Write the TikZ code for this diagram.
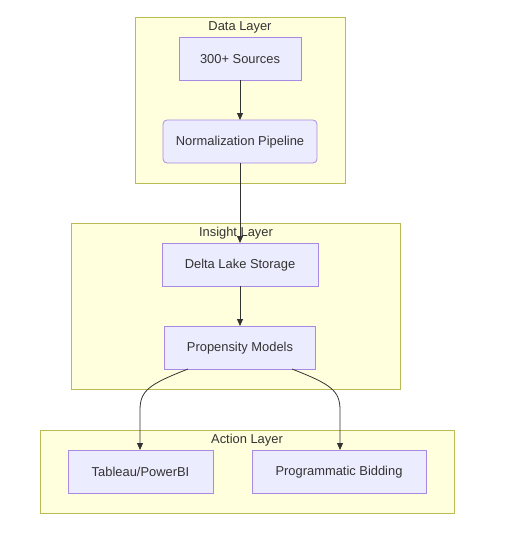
\documentclass[tikz,border=0pt]{standalone}
\usepackage{fontspec}
\setmainfont{Liberation Sans}
\usetikzlibrary{arrows.meta}
\definecolor{nodefill}{HTML}{ECECFF}
\definecolor{nodeline}{HTML}{A98AE3}
\definecolor{clfill}{HTML}{FFFFDE}
\definecolor{clline}{HTML}{BBBB55}
\definecolor{txt}{HTML}{333333}
\begin{document}
\begin{tikzpicture}[x=1pt,y=-1pt,
  cluster/.style={draw=clline,fill=clfill,line width=0.8pt},
  box/.style={draw=nodeline,fill=nodefill,line width=0.8pt},
  lbl/.style={text=txt,font=\fontsize{12.9}{15}\selectfont,inner sep=0pt},
  conn/.style={draw=txt,line width=0.8pt,-{Triangle[length=7pt,width=6pt]}}]
\useasboundingbox[fill=white] (0,0) rectangle (522,543);
% clusters
\draw[cluster] (135,17) rectangle (345,183);
\node[lbl] (dl) at (240,27) {Data Layer};
\draw[cluster] (71,223) rectangle (400,389);
\node[lbl] (il) at (236,233) {Insight Layer};
\draw[cluster] (40,430) rectangle (454,513);
\node[lbl] (al) at (247,440) {Action Layer};
% nodes
\draw[box] (179,37) rectangle (301,80);
\node[lbl] (src) at (240,59) {300+ Sources};
\coordinate (srcS) at (240,80);
\draw[box,rounded corners=4pt] (163,120) rectangle (317,163);
\node[lbl] (norm) at (240,142) {Normalization Pipeline};
\coordinate (normN) at (240,120);
\coordinate (normS) at (240,163);
\draw[box] (162,243) rectangle (318,286);
\node[lbl] (delta) at (240,265) {Delta Lake Storage};
\coordinate (deltaN) at (240,243);
\coordinate (deltaS) at (240,286);
\draw[box] (164,326) rectangle (315,369);
\node[lbl] (prop) at (240,348) {Propensity Models};
\coordinate (propN) at (240,326);
\coordinate (propSW) at (188,369);
\coordinate (propSE) at (292,369);
\draw[box] (68,450) rectangle (213,493);
\node[lbl] (tab) at (140.5,472) {Tableau/PowerBI};
\coordinate (tabN) at (140,450);
\draw[box] (252,450) rectangle (426,493);
\node[lbl] (prog) at (339,472) {Programmatic Bidding};
\coordinate (progN) at (340,450);
% connectors
\draw[conn] (srcS) -- (normN);
\draw[conn] (normS) -- (deltaN);
\draw[conn] (deltaS) -- (propN);
\draw[conn] (propSW) .. controls (150,384) and (140,390) .. (140,410) -- (tabN);
\draw[conn] (propSE) .. controls (330,384) and (340,390) .. (340,410) -- (progN);
\end{tikzpicture}
\end{document}
